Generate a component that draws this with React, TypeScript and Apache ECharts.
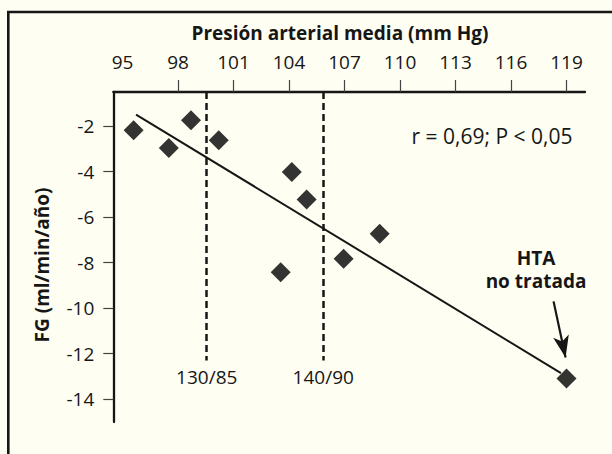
import React, { useEffect, useRef } from "react";
import * as echarts from "echarts";

// Axis ticks / labels
const xTickLabels = [95, 98, 101, 104, 107, 110, 113, 116, 119];
const xTickMarks = [98, 101, 104, 107, 110, 113, 116, 119];
const yTickLabels = [-2, -4, -6, -8, -10, -12, -14];

// Data: mean arterial pressure (mm Hg) vs. GFR change (ml/min/año)
const pam = [95.6, 97.5, 98.7, 100.2, 104.15, 104.95, 103.55, 106.95, 108.9, 119.0];
const fg = [-2.18, -2.96, -1.74, -2.62, -4.02, -5.22, -8.42, -7.83, -6.73, -13.09];

// Regression line end points
const regX = [95.73, 118.7];
const regY = [-1.49, -12.85];

// Threshold lines
const thresholdX = [99.55, 105.85];
const thresholdLabels = ["130/85", "140/90"];
const thresholdTop = -0.5;
const thresholdBottom = -12.3;

// Arrow annotation
const arrowFrom = [118.3, -9.7];
const arrowTo = [118.95, -12.17];

const FONT = "'Open Sans', sans-serif";
const INK = "#161616";

export default function App() {
  const ref = useRef<HTMLDivElement>(null);

  useEffect(() => {
    if (!ref.current) return;
    const chart = echarts.init(ref.current, undefined, { renderer: "svg" });

    const points = pam.map((x, i) => [x, fg[i]]);
    const regression = regX.map((x, i) => [x, regY[i]]);

    chart.setOption({
      animation: false,
      backgroundColor: "#FEFEF2",
      textStyle: { fontFamily: FONT },
      grid: { left: 113.3, top: 92, right: 27, bottom: 32, containLabel: false },
      xAxis: {
        type: "value",
        position: "top",
        min: 94.5,
        max: 120,
        axisLine: { show: true, onZero: false, lineStyle: { color: INK, width: 2.3 } },
        axisTick: {
          show: true,
          inside: false,
          length: 12,
          customValues: xTickMarks,
          lineStyle: { color: "#444", width: 1.2 },
        },
        axisLabel: {
          customValues: xTickLabels,
          margin: 21,
          fontSize: 19,
          color: INK,
          fontFamily: FONT,
        },
        splitLine: { show: false },
      },
      yAxis: {
        type: "value",
        min: -15,
        max: -0.5,
        axisLine: { show: true, onZero: false, lineStyle: { color: INK, width: 2.3 } },
        axisTick: {
          show: true,
          inside: false,
          length: 10,
          customValues: yTickLabels,
          lineStyle: { color: "#444", width: 1.2 },
        },
        axisLabel: {
          customValues: yTickLabels,
          margin: 19,
          fontSize: 19,
          color: INK,
          fontFamily: FONT,
          formatter: (v: number) => String(v),
        },
        splitLine: { show: false },
      },
      series: [
        {
          type: "line",
          data: regression,
          symbol: "none",
          lineStyle: { color: INK, width: 2 },
          z: 3,
          markLine: {
            silent: true,
            symbol: ["none", "none"],
            lineStyle: { color: INK, width: 2.5, type: [7, 4] },
            label: {
              show: true,
              position: "end",
              distance: 7,
              fontSize: 19,
              color: INK,
              fontFamily: FONT,
              formatter: (p: any) => p.name,
            },
            data: thresholdX.map((x, i) => [
              { name: thresholdLabels[i], coord: [x, thresholdTop] },
              { coord: [x, thresholdBottom] },
            ]),
          },
        },
        {
          type: "line",
          data: [],
          markLine: {
            silent: true,
            symbol: ["none", "arrow"],
            symbolSize: [12, 22],
            lineStyle: { color: INK, width: 2.2, type: "solid" },
            label: { show: false },
            data: [[{ coord: arrowFrom }, { coord: arrowTo }]],
          },
        },
        {
          type: "scatter",
          data: points,
          symbol: "diamond",
          symbolSize: 20,
          itemStyle: { color: "#000" },
          z: 5,
        },
      ],
      graphic: [
        {
          type: "rect",
          silent: true,
          shape: { x: 8.3, y: 12, width: 900, height: 900 },
          style: { fill: "none", stroke: INK, lineWidth: 2.6 },
          z: 0,
        },
        {
          type: "text",
          x: 340,
          y: 33,
          style: {
            text: "Presión arterial media (mm Hg)",
            font: `bold 19px ${FONT}`,
            fill: INK,
            align: "center",
            verticalAlign: "middle",
          },
        },
        {
          type: "text",
          x: 42,
          y: 265,
          rotation: Math.PI / 2,
          style: {
            text: "FG (ml/min/año)",
            font: `bold 19px ${FONT}`,
            fill: INK,
            align: "center",
            verticalAlign: "middle",
          },
        },
        {
          type: "text",
          x: 492,
          y: 136,
          style: {
            text: "r = 0,69; P < 0,05",
            font: `21px ${FONT}`,
            fill: INK,
            align: "center",
            verticalAlign: "middle",
          },
        },
        {
          type: "text",
          x: 536,
          y: 269.5,
          style: {
            text: "HTA\nno tratada",
            font: `bold 19px ${FONT}`,
            lineHeight: 23.5,
            fill: INK,
            align: "center",
            verticalAlign: "middle",
          },
        },
      ],
    });

    return () => chart.dispose();
  }, []);

  return (
    <div
      ref={ref}
      style={{ position: "absolute", left: 0, top: 0, width: 612, height: 454 }}
    />
  );
}
